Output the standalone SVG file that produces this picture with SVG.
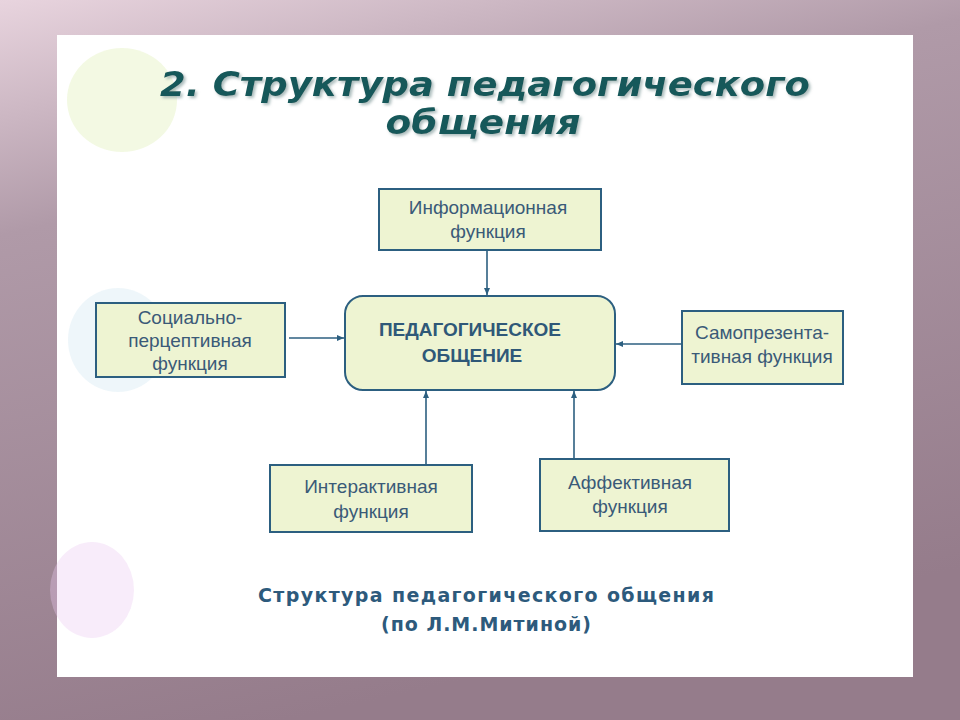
<svg xmlns="http://www.w3.org/2000/svg" width="960" height="720" viewBox="0 0 960 720">
<defs>
<linearGradient id="bg" x1="0" y1="0" x2="0.3" y2="1"><stop offset="0" stop-color="#e8d4de"/><stop offset="0.3" stop-color="#b09aa8"/><stop offset="1" stop-color="#957c8b"/></linearGradient>
<marker id="ah" markerWidth="8" markerHeight="8" refX="7" refY="4" orient="auto" markerUnits="userSpaceOnUse"><path d="M0,1 L7,4 L0,7 Z" fill="#2c5f80"/></marker>
<filter id="sh" x="-5%" y="-20%" width="110%" height="140%"><feDropShadow dx="2" dy="2" stdDeviation="1.5" flood-color="#88a0a0" flood-opacity="0.7"/></filter>
</defs>
<style>
.box{fill:#eef4d2;stroke:#2c5f80;stroke-width:2}
.t{font-family:"Liberation Sans",Arial,sans-serif;font-size:19px;fill:#3a5a78;text-anchor:middle}
.c{font-weight:bold;fill:#2f5878;font-size:19px}
.ln{stroke:#2c5f80;stroke-width:1.6;fill:none;marker-end:url(#ah)}
.ti{font-family:"DejaVu Sans",Verdana,sans-serif;font-size:34px;font-weight:bold;font-style:italic;fill:#15595a;text-anchor:middle}
.cap{font-family:"DejaVu Sans",Verdana,sans-serif;font-size:19px;font-weight:bold;fill:#2d5a7c;text-anchor:middle}
</style>
<rect width="960" height="720" fill="url(#bg)"/>
<rect x="57" y="35" width="856" height="642" fill="#ffffff"/>
<g opacity="0.35">
<ellipse cx="122" cy="100" rx="55" ry="52" fill="#dcefb0"/>
<ellipse cx="118" cy="340" rx="50" ry="52" fill="#cfe6f2"/>
<ellipse cx="92" cy="590" rx="42" ry="48" fill="#ecc8f0"/>
</g>
<g id="title" filter="url(#sh)">
<text class="ti" x="485" y="96" textLength="650" lengthAdjust="spacingAndGlyphs">2. Структура педагогического</text>
<text class="ti" x="483" y="134" textLength="195" lengthAdjust="spacingAndGlyphs">общения</text>
</g>
<g id="connectors">
<line class="ln" x1="487" y1="250" x2="487" y2="295"/>
<line class="ln" x1="289" y1="338" x2="344" y2="338"/>
<line class="ln" x1="682" y1="344" x2="616" y2="344"/>
<line class="ln" x1="426" y1="465" x2="426" y2="391"/>
<line class="ln" x1="574" y1="459" x2="574" y2="391"/>
</g>
<g id="center"><rect class="box" x="345" y="296" width="270" height="94" rx="18"/>
<text class="t c" x="470" y="336">ПЕДАГОГИЧЕСКОЕ</text><text class="t c" x="472" y="362">ОБЩЕНИЕ</text></g>
<g id="info"><rect class="box" x="379" y="189" width="222" height="61"/>
<text class="t" x="488" y="214">Информационная</text><text class="t" x="488" y="238">функция</text></g>
<g id="social"><rect class="box" x="96" y="303" width="189" height="74"/>
<text class="t" x="190" y="324">Социально-</text><text class="t" x="190" y="347">перцептивная</text><text class="t" x="190" y="370">функция</text></g>
<g id="self"><rect class="box" x="682" y="311" width="161" height="73"/>
<text class="t" x="762" y="339">Самопрезента-</text><text class="t" x="762" y="363">тивная функция</text></g>
<g id="interactive"><rect class="box" x="270" y="465" width="202" height="67"/>
<text class="t" x="371" y="493">Интерактивная</text><text class="t" x="371" y="518">функция</text></g>
<g id="affective"><rect class="box" x="540" y="459" width="189" height="72"/>
<text class="t" x="630" y="489">Аффективная</text><text class="t" x="630" y="513">функция</text></g>
<g id="caption">
<text class="cap" x="486" y="602" textLength="456" lengthAdjust="spacing">Структура педагогического общения</text>
<text class="cap" x="486" y="631" textLength="210" lengthAdjust="spacing">(по Л.М.Митиной)</text>
</g>
</svg>
